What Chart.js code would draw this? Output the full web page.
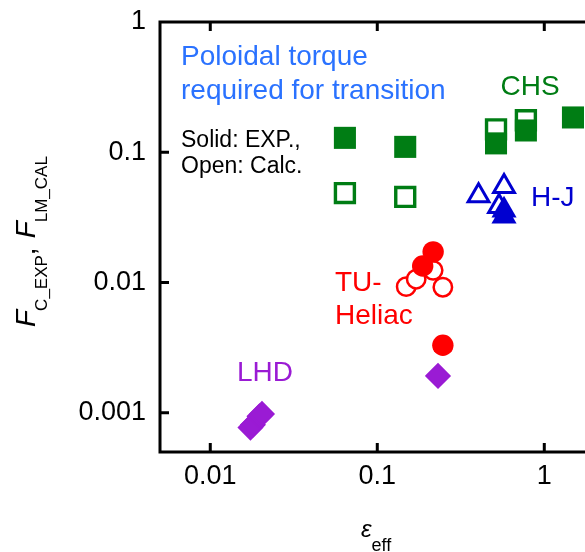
<!DOCTYPE html>
<html><head><meta charset="utf-8">
<script src="https://cdn.jsdelivr.net/npm/chart.js@4.4.1/dist/chart.umd.min.js"></script>
<style>html,body{margin:0;padding:0;background:#fff;overflow:hidden}#wrap{width:585px;height:552px}</style>
</head><body><div id="wrap"><canvas id="c" width="585" height="552"></canvas></div>
<script>
// ---- data ----
const xTickValues = [0.01, 0.1, 1];
const yTickValues = [0.001, 0.01, 0.1, 1];

const chsExpX  = [0.064, 0.147, 0.514, 0.776, 1.485];
const chsExpY  = [0.129, 0.110, 0.117, 0.147, 0.185];
const chsCalcX = [0.064, 0.147, 0.514, 0.776];
const chsCalcY = [0.0486, 0.0454, 0.150, 0.176];

const hjExpX  = [0.574, 0.574];
const hjExpY  = [0.0358, 0.0322];
const hjCalcX = [0.404, 0.574, 0.536];
const hjCalcY = [0.0463, 0.0547, 0.0384];

const tuExpX  = [0.216, 0.187, 0.247];
const tuExpY  = [0.0172, 0.0134, 0.0033];
const tuCalcX = [0.149, 0.171, 0.216, 0.247];
const tuCalcY = [0.0093, 0.0106, 0.0124, 0.0092];

const lhdExpX = [0.0174, 0.0180, 0.0197, 0.0204, 0.231];
const lhdExpY = [0.00077, 0.00081, 0.00094, 0.00098, 0.00192];

const xMin = 0.005, xMax = 1.753, yMin = 0.0005, yMax = 1;

// ---- styles ----
const FONT = "'Liberation Sans', Arial, Helvetica, sans-serif";
const GREEN = '#007d14', BLUE = '#0000d0', RED = '#ff0000', PURPLE = '#9a1bd4', LBLUE = '#2a72ff';

const pts = (xs, ys) => xs.map((x, i) => ({x: x, y: ys[i]}));

const datasets = [
  {label:'CHS exp', data: pts(chsExpX, chsExpY), pointStyle:'rect', pointRadius:15.6, backgroundColor:GREEN, borderColor:GREEN, borderWidth:0, order:1},
  {label:'CHS calc', data: pts(chsCalcX, chsCalcY), pointStyle:'rect', pointRadius:13.4, backgroundColor:'#ffffff', borderColor:GREEN, borderWidth:3.4, order:2},
  {label:'H-J exp', data: pts(hjExpX, hjExpY), pointStyle:'triangle', pointRadius:14.5, backgroundColor:BLUE, borderColor:BLUE, borderWidth:0, order:1},
  {label:'H-J calc', data: pts(hjCalcX, hjCalcY), pointStyle:'triangle', pointRadius:12, backgroundColor:'#ffffff', borderColor:BLUE, borderWidth:3, order:2},
  {label:'TU exp', data: pts(tuExpX, tuExpY), pointStyle:'circle', pointRadius:10.7, backgroundColor:RED, borderColor:RED, borderWidth:0, order:1},
  {label:'TU calc', data: pts(tuCalcX, tuCalcY), pointStyle:'circle', pointRadius:9.2, backgroundColor:'#ffffff', borderColor:RED, borderWidth:2.5, order:2},
  {label:'LHD exp', data: pts(lhdExpX, lhdExpY), pointStyle:'rectRot', pointRadius:12, backgroundColor:PURPLE, borderColor:PURPLE, borderWidth:1.5, order:1}
];
datasets.forEach(d => { d.showLine = false; d.clip = false; d.pointHoverRadius = d.pointRadius; });

const frame = {
  id: 'frame',
  afterDraw(chart) {
    const ctx = chart.ctx, a = chart.chartArea;
    const xs = chart.scales.x, ys = chart.scales.y;
    ctx.save();
    ctx.strokeStyle = '#000'; ctx.lineWidth = 3; ctx.lineCap = 'butt';
    ctx.beginPath();
    ctx.moveTo(a.left, a.top - 1.5); ctx.lineTo(a.left, a.bottom + 1.5);
    ctx.moveTo(a.left - 1.5, a.bottom); ctx.lineTo(chart.width, a.bottom);
    ctx.moveTo(a.left - 1.5, a.top); ctx.lineTo(chart.width, a.top);
    xTickValues.forEach(v => {
      const p = xs.getPixelForValue(v);
      ctx.moveTo(p, a.bottom); ctx.lineTo(p, a.bottom - 9);
      ctx.moveTo(p, a.top); ctx.lineTo(p, a.top + 9);
    });
    yTickValues.forEach(v => {
      const p = ys.getPixelForValue(v);
      ctx.moveTo(a.left, p); ctx.lineTo(a.left + 9, p);
    });
    ctx.stroke();

    // annotations
    ctx.textBaseline = 'alphabetic'; ctx.textAlign = 'left';
    const txt = (s, x, y, size, color, style) => {
      ctx.font = (style || '') + ' ' + size + 'px ' + FONT;
      ctx.fillStyle = color; ctx.fillText(s, x, y);
      return ctx.measureText(s).width;
    };
    txt('Poloidal torque', 181, 65, 28, LBLUE);
    txt('required for transition', 181, 98.5, 28, LBLUE);
    txt('Solid: EXP.,', 181, 146.5, 23, '#000');
    txt('Open: Calc.', 181, 173, 23, '#000');
    txt('CHS', 500.5, 95, 28, GREEN);
    txt('H-J', 531, 206, 28, BLUE);
    txt('TU-', 335, 291, 28, RED);
    txt('Heliac', 335, 324, 28, RED);
    txt('LHD', 237, 380.5, 28, PURPLE);

    // x title: epsilon_eff
    txt('\u03b5', 361, 537, 24, '#000', 'italic');
    txt('eff', 371.5, 551, 18, '#000');

    // y title rotated
    ctx.save();
    ctx.translate(35, 327);
    ctx.rotate(-Math.PI / 2);
    let x = 0;
    x += txt('F', x, 0, 28, '#000', 'italic');
    x += txt('C_EXP', x - 1, 12, 17, '#000');
    x += txt(',', x - 1, 0, 28, '#000');
    x += 8;
    x += txt('F', x, 0, 28, '#000', 'italic');
    txt('LM_CAL', x - 1, 12, 17, '#000');
    ctx.restore();
    ctx.restore();
  }
};

const tickFont = {family: FONT, size: 27};
const setX = s => { s.min = xMin; s.max = xMax; };
const setY = s => { s.min = yMin; s.max = yMax; };
new Chart(document.getElementById('c'), {
  type: 'scatter',
  data: {datasets: datasets},
  options: {
    responsive: false, animation: false, events: [],
    layout: {padding: 0, autoPadding: false},
    plugins: {legend: {display: false}, tooltip: {enabled: false}},
    scales: {
      x: {
        type: 'logarithmic', position: 'bottom', min: xMin, max: xMax, bounds: 'data',
        afterDataLimits: setX,
        afterBuildTicks: s => { s.ticks = xTickValues.map(v => ({value: v})); setX(s); },
        afterFit: s => { s.height = 100; s.paddingLeft = 0; s.paddingRight = 0; },
        ticks: {font: tickFont, color: '#000', padding: 8, maxRotation: 0, autoSkip: false, callback: v => String(v)},
        grid: {display: false, drawTicks: false}, border: {display: false}
      },
      x2: {
        type: 'logarithmic', position: 'top', min: xMin, max: xMax, bounds: 'data',
        afterDataLimits: setX,
        afterBuildTicks: s => { s.ticks = xTickValues.map(v => ({value: v})); setX(s); },
        afterFit: s => { s.height = 22; s.paddingLeft = 0; s.paddingRight = 0; },
        ticks: {display: false}, grid: {display: false, drawTicks: false}, border: {display: false}
      },
      y: {
        type: 'logarithmic', position: 'left', min: yMin, max: yMax, bounds: 'data',
        afterDataLimits: setY,
        afterBuildTicks: s => { s.ticks = yTickValues.map(v => ({value: v})); setY(s); },
        afterFit: s => { s.width = 160; s.paddingTop = 0; s.paddingBottom = 0; },
        ticks: {font: tickFont, color: '#000', padding: 14, autoSkip: false, callback: v => String(v)},
        grid: {display: false, drawTicks: false}, border: {display: false}
      }
    }
  },
  plugins: [frame]
});
</script>
</body></html>
